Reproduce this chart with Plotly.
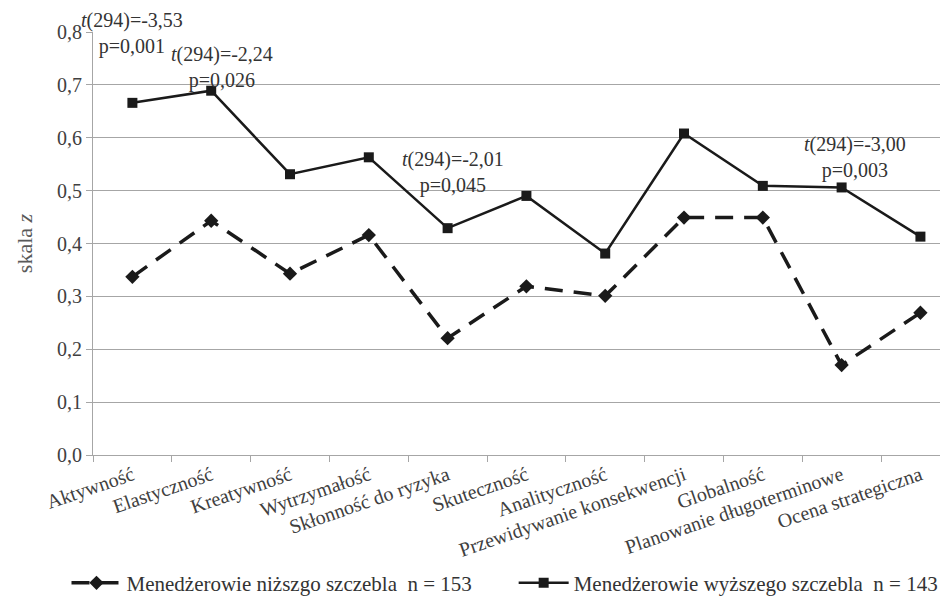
import plotly.graph_objects as go

categories = ["Aktywność", "Elastyczność", "Kreatywność", "Wytrzymałość",
              "Skłonność do ryzyka", "Skuteczność", "Analityczność",
              "Przewidywanie konsekwencji", "Globalność",
              "Planowanie długoterminowe", "Ocena strategiczna"]
lower_vals = [0.337, 0.443, 0.343, 0.416, 0.221, 0.319, 0.301, 0.449, 0.449, 0.170, 0.269]
upper_vals = [0.666, 0.689, 0.531, 0.563, 0.429, 0.490, 0.381, 0.608, 0.509, 0.506, 0.413]
lower_name = "Menedżerowie niższgo szczebla  n = 153"
upper_name = "Menedżerowie wyższego szczebla  n = 143"

ann_cats = ["Aktywność", "Elastyczność", "Skłonność do ryzyka", "Planowanie długoterminowe"]
ann_t = ["-3,53", "-2,24", "-2,01", "-3,00"]
ann_p = ["0,001", "0,026", "0,045", "0,003"]
ann_y = [0.797, 0.733, 0.535, 0.563]
ann_xshift = [0, 11, 5, 13]

yticks = [0.0, 0.1, 0.2, 0.3, 0.4, 0.5, 0.6, 0.7, 0.8]
ytick_labels = ["0,0", "0,1", "0,2", "0,3", "0,4", "0,5", "0,6", "0,7", "0,8"]
Y_MAX = 0.8

FONT = "'Liberation Serif', 'Times New Roman', serif"

fig = go.Figure()
fig.add_trace(go.Scatter(
    x=categories, y=lower_vals, name=lower_name, mode="lines+markers",
    line=dict(color="#1a1a1a", width=3.5, dash="18px,11px"),
    marker=dict(symbol="diamond", size=11, color="#1a1a1a"),
    legend="legend",
))
fig.add_trace(go.Scatter(
    x=categories, y=upper_vals, name=upper_name, mode="lines+markers",
    line=dict(color="#1a1a1a", width=2.5),
    marker=dict(symbol="square", size=10, color="#1a1a1a"),
    legend="legend2",
))

for c, t, p, y, dx in zip(ann_cats, ann_t, ann_p, ann_y, ann_xshift):
    fig.add_annotation(x=c, y=y / Y_MAX, xref="x", yref="paper", xshift=dx,
                       text=f"<i>t</i>(294)={t}<br>p={p}", showarrow=False,
                       font=dict(family=FONT, size=20, color="#333333"),
                       align="center", xanchor="center", yanchor="middle")

legend_common = dict(orientation="h", yanchor="middle", y=-0.303,
                     font=dict(family=FONT, size=21, color="#333333"),
                     itemwidth=50, bgcolor="rgba(0,0,0,0)")

fig.update_layout(
    width=948, height=603,
    margin=dict(l=85, r=8, t=24, b=156, autoexpand=False),
    paper_bgcolor="white", plot_bgcolor="white",
    font=dict(family=FONT, size=20, color="#404040"),
    showlegend=True,
    legend=dict(x=-0.031, xanchor="left", **legend_common),
    legend2=dict(x=0.492, xanchor="left", **legend_common),
    xaxis=dict(type="category", range=[-0.5, 10.35], showgrid=False, automargin=False,
               showline=True, linecolor="#a6a6a6", linewidth=1,
               ticks="outside", ticklen=6, tickcolor="#a6a6a6", tickson="boundaries",
               tickangle=-19, tickfont=dict(family=FONT, size=20, color="#404040")),
    yaxis=dict(range=[0, Y_MAX], tickvals=yticks, ticktext=ytick_labels, automargin=False,
               showgrid=True, gridcolor="#a6a6a6", gridwidth=1,
               showline=True, linecolor="#a6a6a6", linewidth=1,
               ticks="outside", ticklen=6, tickcolor="#a6a6a6",
               zeroline=False,
               tickfont=dict(family=FONT, size=20, color="#404040"),
               title=dict(text="skala <i>z</i>", standoff=18,
                          font=dict(family=FONT, size=22, color="#595959"))),
)

fig.write_html("out.html")
